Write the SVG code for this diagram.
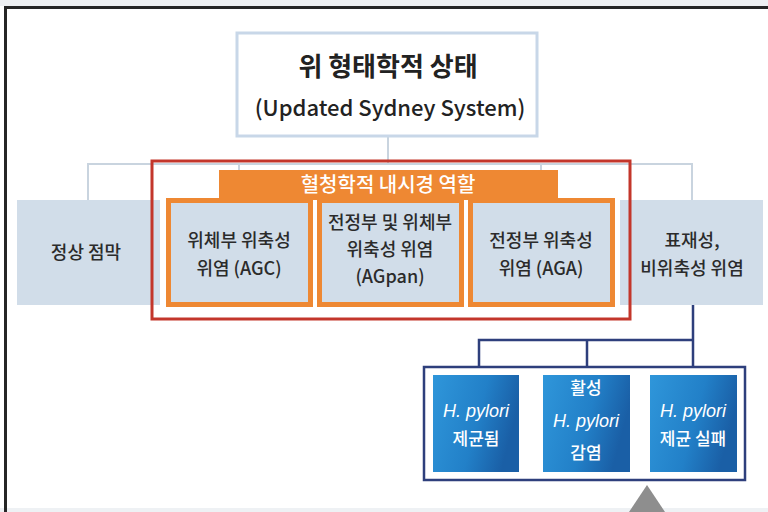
<svg xmlns="http://www.w3.org/2000/svg" width="768" height="512" viewBox="0 0 768 512">
<defs>
<style>
text{font-family:"Noto Sans CJK KR","Noto Sans",sans-serif;text-anchor:middle}
.lb{fill:#d1dde9}
.dk{fill:#2b2b2b;font-size:18px;font-weight:500}
.or{fill:none;stroke:#ee8833;stroke-width:5}
.gc{fill:none;stroke:#c9d4df;stroke-width:2}
.nv{fill:none;stroke:#2e3f7c;stroke-width:2.5}
.wt{fill:#ffffff;font-size:17px;font-weight:500}
.it{font-family:"Liberation Sans",Arial,sans-serif;font-style:italic;font-weight:400;font-size:18px}
</style>
<linearGradient id="bg" x1="0" y1="0" x2="1" y2="0.3">
<stop offset="0" stop-color="#2f96da"/>
<stop offset="0.6" stop-color="#2280c8"/>
<stop offset="1" stop-color="#1a5fa6"/>
</linearGradient>
</defs>
<rect x="0" y="0" width="768" height="512" fill="#ffffff"/>
<rect x="0" y="0" width="768" height="6" fill="#eef0f3"/>
<rect x="0" y="508" width="768" height="4" fill="#eef1f4"/>
<path d="M5.5,512 V7.5 H768" fill="none" stroke="#262626" stroke-width="3"/>

<g id="connectors">
<path class="gc" d="M388,136 V164 M88,200 V164 H692 V200 M239,164 V198 M541,164 V198"/>
<path class="nv" d="M693,305 V368 M479,368 V340 H693 M587,340 V368"/>
</g>

<g id="top">
<rect x="237" y="33" width="300" height="103" fill="#ffffff" stroke="#c8d7e8" stroke-width="3"/>
<text x="388" y="76" style="font-size:26px;font-weight:700;fill:#222">위 형태학적 상태</text>
<text x="390" y="116" style="font-size:22px;font-weight:500;fill:#222">(Updated Sydney System)</text>
</g>

<g id="normal">
<rect class="lb" x="17" y="200" width="143" height="105"/>
<text class="dk" x="86" y="259">정상 점막</text>
</g>

<g id="superficial">
<rect class="lb" x="620" y="200" width="143" height="105"/>
<text class="dk" x="692" y="247">표재성,</text>
<text class="dk" x="692" y="275">비위축성 위염</text>
</g>

<g id="serology">
<rect x="152" y="161" width="478" height="158" fill="none" stroke="#c3362b" stroke-width="3"/>
<rect x="219" y="170" width="339" height="30" fill="#ee8833"/>
<text x="388" y="192" style="font-size:20px;font-weight:500;fill:#ffffff">혈청학적 내시경 역할</text>
</g>

<g id="agc">
<rect class="lb" x="168.5" y="200.5" width="142" height="104"/>
<rect class="or" x="168.5" y="200.5" width="142" height="104"/>
<text class="dk" x="239" y="247">위체부 위축성</text>
<text class="dk" x="239" y="275">위염 (AGC)</text>
</g>

<g id="agpan">
<rect class="lb" x="319.5" y="200.5" width="142" height="104"/>
<rect class="or" x="319.5" y="200.5" width="142" height="104"/>
<text class="dk" x="390" y="229">전정부 및 위체부</text>
<text class="dk" x="390" y="256">위축성 위염</text>
<text class="dk" x="390" y="283">(AGpan)</text>
</g>

<g id="aga">
<rect class="lb" x="470.5" y="200.5" width="142" height="104"/>
<rect class="or" x="470.5" y="200.5" width="142" height="104"/>
<text class="dk" x="541" y="247">전정부 위축성</text>
<text class="dk" x="541" y="275">위염 (AGA)</text>
</g>

<g id="hp-group">
<rect x="424" y="367" width="321" height="113" fill="#ffffff" stroke="#2e3f7c" stroke-width="2.5"/>
</g>

<g id="hp-eradicated">
<rect x="433" y="375" width="86" height="97" fill="url(#bg)"/>
<text class="wt it" x="476" y="417">H. pylori</text>
<text class="wt" x="476" y="445">제균됨</text>
</g>

<g id="hp-active">
<rect x="543" y="375" width="87" height="97" fill="url(#bg)"/>
<text class="wt" x="586" y="394">활성</text>
<text class="wt it" x="586" y="427">H. pylori</text>
<text class="wt" x="586" y="459">감염</text>
</g>

<g id="hp-failed">
<rect x="650" y="375" width="87" height="97" fill="url(#bg)"/>
<text class="wt it" x="693" y="417">H. pylori</text>
<text class="wt" x="693" y="445">제균 실패</text>
</g>

<g id="arrow">
<polygon points="647,485 665,512 629,512" fill="#8e8e8e"/>
</g>
</svg>
